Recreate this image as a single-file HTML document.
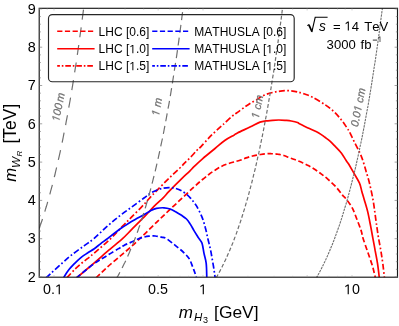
<!DOCTYPE html>
<html><head><meta charset="utf-8"><title>chart</title><style>html,body{margin:0;padding:0;background:#fff;width:399px;height:326px;overflow:hidden}</style></head><body><svg width="399" height="326" viewBox="0 0 399 326" style="position:absolute;left:0;top:0;will-change:transform;font-family:'Liberation Sans',sans-serif">
<defs><clipPath id="cp"><rect x="39.2" y="8.3" width="358.3" height="268.9"/></clipPath></defs>
<rect x="0" y="0" width="399" height="326" fill="#fff"/>
<g clip-path="url(#cp)" fill="none">
<path d="M96.1,277.9 C97.8,276.2 102.7,271.3 106.5,267.8 C110.3,264.3 114.8,260.7 119.0,257.1 C123.2,253.6 128.0,249.5 131.5,246.4 C135.0,243.3 137.7,240.6 139.8,238.6 C141.9,236.6 141.2,237.3 144.0,234.6 C146.8,231.9 152.3,226.3 156.5,222.3 C160.7,218.3 164.8,214.4 169.0,210.4 C173.2,206.4 177.7,202.3 181.8,198.4 C186.0,194.5 190.5,190.2 193.9,187.1 C197.3,183.9 200.0,181.6 202.5,179.5 C205.0,177.4 206.7,176.1 208.8,174.5 C210.8,172.9 212.9,171.5 215.0,170.2 C217.1,168.8 219.2,167.5 221.2,166.5 C223.3,165.5 225.4,164.7 227.5,163.9 C229.6,163.2 231.7,162.6 233.8,162.0 C235.8,161.4 237.9,161.0 240.0,160.3 C242.1,159.6 244.2,158.6 246.2,157.9 C248.3,157.2 250.4,156.5 252.5,156.0 C254.6,155.5 256.7,155.2 258.8,154.8 C260.8,154.5 262.9,154.1 265.0,153.9 C267.1,153.7 269.2,153.6 271.2,153.7 C273.3,153.7 275.4,153.8 277.5,154.2 C279.6,154.5 281.7,154.9 283.8,155.5 C285.8,156.1 287.9,157.2 290.0,158.0 C292.1,158.8 294.2,159.4 296.2,160.2 C298.3,160.9 300.4,161.7 302.5,162.7 C304.6,163.6 306.7,164.7 308.8,165.8 C310.8,166.9 312.9,168.2 315.0,169.5 C317.1,170.8 319.2,172.3 321.2,173.9 C323.3,175.5 325.1,176.8 327.5,178.9 C329.9,181.0 333.0,183.7 335.5,186.4 C338.0,189.1 340.8,193.0 342.5,195.1 C344.2,197.2 344.3,196.7 346.0,198.9 C347.7,201.1 350.6,204.7 352.5,208.4 C354.4,212.1 356.0,217.2 357.5,220.9 C359.0,224.7 360.3,228.0 361.2,230.9 C362.2,233.8 362.0,234.9 363.1,238.4 C364.2,241.9 366.1,247.4 367.8,252.2 C369.4,256.9 371.5,262.8 372.8,267.1 C374.0,271.5 375.0,276.5 375.5,278.4" stroke="#ff0000" stroke-width="1.7" stroke-dasharray="5.4,2.6" stroke-dashoffset="0"/>
<path d="M76.6,277.9 C79.5,275.4 89.0,267.4 94.0,263.1 C99.0,258.8 103.7,254.6 106.5,252.2 C109.3,249.7 108.3,250.6 111.0,248.3 C113.7,246.0 119.3,241.5 122.8,238.4 C126.2,235.3 128.0,233.2 131.5,229.7 C135.0,226.1 140.2,221.0 144.0,217.2 C147.8,213.3 150.8,209.7 154.0,206.4 C157.2,203.1 160.9,200.1 163.4,197.6 C165.9,195.1 166.0,194.5 169.0,191.4 C172.0,188.3 178.0,182.3 181.5,178.9 C185.0,175.5 187.9,172.9 190.0,170.8 C192.1,168.8 191.9,168.6 194.0,166.6 C196.1,164.6 199.0,161.8 202.5,158.8 C206.0,155.8 211.2,151.6 215.0,148.5 C218.8,145.4 221.9,142.5 225.1,140.3 C228.2,138.1 231.8,136.4 233.9,135.2 C236.0,133.9 234.7,134.3 237.5,132.9 C240.3,131.5 246.8,128.6 250.5,126.8 C254.2,125.0 257.4,123.1 260.0,122.1 C262.6,121.1 264.2,121.2 266.2,120.9 C268.3,120.6 270.4,120.6 272.5,120.4 C274.6,120.2 276.7,120.0 278.8,120.0 C280.8,120.0 282.9,120.1 285.0,120.3 C287.1,120.5 289.2,120.6 291.2,121.0 C293.3,121.4 296.0,122.0 297.5,122.5 C299.0,123.0 298.0,123.1 300.0,124.1 C302.0,125.1 306.3,127.0 309.4,128.5 C312.5,130.0 316.1,131.4 318.8,132.9 C321.4,134.4 323.1,135.9 325.0,137.3 C326.9,138.7 328.3,139.6 330.0,141.1 C331.7,142.6 333.1,144.2 335.0,146.2 C336.9,148.2 339.7,150.9 341.5,153.2 C343.3,155.6 344.8,158.5 346.0,160.3 C347.2,162.2 347.5,162.2 348.8,164.3 C350.0,166.4 352.0,169.8 353.8,172.9 C355.5,176.0 358.0,179.8 359.4,182.9 C360.8,186.0 361.1,188.9 361.9,191.7 C362.7,194.4 363.3,196.2 364.2,199.4 C365.1,202.6 366.4,206.5 367.5,210.9 C368.6,215.3 369.7,221.3 370.6,225.9 C371.5,230.5 372.1,234.2 372.9,238.4 C373.7,242.6 374.5,246.7 375.2,250.9 C376.0,255.1 376.8,258.8 377.5,263.4 C378.2,268.0 379.1,275.9 379.4,278.4" stroke="#ff0000" stroke-width="1.7"/>
<path d="M66.7,277.9 C68.1,276.4 72.8,271.4 75.2,269.0 C77.7,266.6 79.4,265.2 81.5,263.4 C83.6,261.6 85.7,260.1 87.8,258.4 C89.8,256.7 90.0,256.7 93.9,253.4 C97.8,250.1 106.1,243.0 110.9,238.4 C115.7,233.8 119.3,229.4 122.8,225.9 C126.2,222.4 128.0,220.7 131.5,217.2 C135.0,213.6 141.1,207.5 144.0,204.4 C146.9,201.3 146.9,201.0 149.0,198.7 C151.1,196.4 153.2,194.2 156.5,190.8 C159.8,187.4 164.8,182.4 169.0,178.3 C173.2,174.2 179.0,168.9 181.5,166.4 C184.0,163.9 182.6,165.0 184.0,163.6 C185.4,162.2 187.9,160.0 190.0,157.8 C192.1,155.7 194.7,152.6 196.5,150.7 C198.3,148.8 198.7,149.0 201.0,146.6 C203.3,144.2 207.1,139.7 210.5,136.2 C213.9,132.8 219.1,128.1 221.5,125.9 C223.9,123.7 223.2,124.6 225.0,122.9 C226.8,121.2 230.4,117.7 232.5,115.9 C234.6,114.2 235.4,113.9 237.5,112.4 C239.6,110.9 242.8,108.4 245.0,106.8 C247.2,105.2 248.9,104.1 251.0,102.8 C253.1,101.5 256.0,100.1 257.5,99.2 C259.0,98.3 258.5,98.2 260.0,97.4 C261.5,96.6 264.2,95.2 266.2,94.4 C268.3,93.6 270.4,93.0 272.5,92.5 C274.6,92.0 276.7,91.6 278.8,91.3 C280.8,91.0 282.9,90.7 285.0,90.7 C287.1,90.6 289.2,90.7 291.2,90.9 C293.3,91.1 295.4,91.4 297.5,91.9 C299.6,92.4 301.2,92.9 303.8,93.8 C306.2,94.7 309.0,95.3 312.5,97.2 C316.0,99.0 321.5,102.3 325.0,104.7 C328.5,107.0 331.0,109.0 333.8,111.5 C336.5,114.0 339.0,116.9 341.2,119.7 C343.5,122.4 345.5,125.7 347.0,127.9 C348.5,130.1 348.7,130.4 350.0,132.9 C351.3,135.4 353.3,139.8 355.0,143.2 C356.7,146.5 358.6,150.1 360.0,153.2 C361.4,156.2 362.2,158.5 363.2,161.6 C364.2,164.7 365.1,167.7 366.2,171.7 C367.4,175.6 368.9,180.6 370.0,185.4 C371.1,190.2 372.3,195.6 373.1,200.3 C373.9,205.0 374.4,208.9 375.0,213.4 C375.6,217.9 376.3,223.0 376.9,227.2 C377.5,231.3 377.9,234.4 378.6,238.4 C379.3,242.4 380.2,246.7 380.9,250.9 C381.6,255.1 382.1,258.8 382.8,263.4 C383.4,268.0 384.2,275.9 384.5,278.4" stroke="#ff0000" stroke-width="1.7" stroke-dasharray="6.0,2.35,1.7,2.35" stroke-dashoffset="0"/>
<path d="M76.3,277.9 C79.2,275.5 88.9,267.5 93.9,263.8 C98.9,260.1 102.3,258.5 106.5,255.9 C110.7,253.3 116.1,250.2 119.0,248.4 C121.9,246.7 122.1,246.4 124.0,245.4 C125.9,244.4 128.2,243.5 130.2,242.6 C132.3,241.7 134.4,240.6 136.5,239.7 C138.6,238.8 140.7,238.0 142.8,237.4 C144.8,236.8 146.9,236.4 149.0,236.2 C151.1,236.0 153.2,235.8 155.2,236.0 C157.3,236.2 159.6,236.6 161.5,237.1 C163.4,237.6 164.2,237.3 166.5,238.7 C168.8,240.1 172.3,243.0 175.2,245.3 C178.2,247.7 181.7,250.5 184.0,252.8 C186.3,255.1 187.8,256.5 189.3,258.9 C190.8,261.3 191.9,265.1 192.8,267.1 C193.6,269.1 193.5,269.0 194.2,270.9 C194.9,272.8 196.3,277.1 196.7,278.4" stroke="#0000ff" stroke-width="1.7" stroke-dasharray="5.4,2.6" stroke-dashoffset="0"/>
<path d="M63.5,277.9 C64.4,276.5 67.0,272.2 69.0,269.6 C71.0,267.1 73.2,264.9 75.2,262.8 C77.3,260.7 79.4,258.8 81.5,257.1 C83.6,255.5 85.7,254.2 87.8,252.8 C89.8,251.4 91.8,250.5 93.9,249.0 C96.0,247.5 98.2,245.6 100.5,243.8 C102.8,242.0 104.7,240.8 107.8,238.4 C110.8,236.0 116.3,231.7 119.0,229.7 C121.7,227.7 121.9,227.8 124.0,226.4 C126.1,225.0 128.2,223.5 131.5,221.5 C134.8,219.5 140.9,216.4 144.0,214.7 C147.1,212.9 148.2,211.9 150.2,210.9 C152.3,209.9 154.2,208.9 156.5,208.4 C158.8,207.9 161.7,207.7 164.0,207.8 C166.3,207.9 168.4,208.4 170.2,209.0 C172.1,209.6 173.4,210.4 175.2,211.5 C177.1,212.6 179.6,214.1 181.5,215.3 C183.4,216.6 185.0,217.6 186.5,219.0 C188.0,220.4 189.0,222.1 190.2,224.0 C191.5,225.9 192.6,228.2 194.0,230.6 C195.4,233.0 197.6,236.3 198.9,238.4 C200.2,240.5 201.2,240.9 202.1,243.4 C202.9,245.9 203.3,250.1 204.0,253.4 C204.7,256.7 205.8,259.2 206.2,263.4 C206.7,267.6 206.7,275.9 206.8,278.4" stroke="#0000ff" stroke-width="1.7"/>
<path d="M46.0,277.9 C49.8,274.4 62.7,262.5 69.0,257.1 C75.3,251.8 79.8,249.0 84.0,245.9 C88.2,242.8 90.2,241.8 93.9,238.6 C97.7,235.4 102.3,230.6 106.5,226.9 C110.7,223.2 114.8,219.7 119.0,216.4 C123.2,213.1 127.3,210.2 131.5,207.2 C135.7,204.1 140.9,200.3 144.0,198.0 C147.1,195.7 148.2,194.7 150.2,193.4 C152.3,192.1 154.4,191.0 156.5,190.2 C158.6,189.3 160.7,188.7 162.8,188.3 C164.8,187.9 166.9,187.7 169.0,187.7 C171.1,187.7 173.2,187.8 175.2,188.3 C177.3,188.8 179.4,189.6 181.5,190.8 C183.6,192.0 186.2,194.0 187.8,195.3 C189.3,196.6 190.0,197.5 191.0,198.7 C192.0,199.9 193.1,201.2 194.0,202.4 C194.9,203.6 195.2,203.7 196.5,205.9 C197.8,208.2 200.0,212.4 201.5,215.9 C203.0,219.4 204.2,223.4 205.2,227.2 C206.3,230.9 206.9,234.9 207.8,238.4 C208.6,241.9 209.5,245.1 210.2,248.4 C211.0,251.7 211.5,254.9 212.1,258.4 C212.7,261.9 213.5,266.3 214.0,269.6 C214.5,273.0 215.0,276.9 215.2,278.4" stroke="#0000ff" stroke-width="1.7" stroke-dasharray="6.0,2.35,1.7,2.35" stroke-dashoffset="0"/>
<path d="M36.0,237.5 C36.1,237.1 36.6,235.9 36.9,235.1 C37.2,234.3 37.4,233.6 37.7,232.8 C38.0,232.0 38.3,231.2 38.6,230.3 C38.9,229.5 39.2,228.7 39.5,227.9 C39.8,227.0 40.0,226.2 40.3,225.4 C40.6,224.5 40.9,223.7 41.2,222.8 C41.5,221.9 41.8,221.1 42.1,220.2 C42.4,219.3 42.6,218.4 42.9,217.5 C43.2,216.6 43.5,215.7 43.8,214.8 C44.1,213.9 44.4,212.9 44.7,212.0 C45.0,211.1 45.2,210.1 45.5,209.2 C45.8,208.2 46.1,207.2 46.4,206.3 C46.7,205.3 47.0,204.3 47.3,203.3 C47.6,202.3 47.8,201.3 48.1,200.3 C48.4,199.3 48.7,198.3 49.0,197.2 C49.3,196.2 49.6,195.2 49.9,194.1 C50.2,193.1 50.4,192.0 50.7,190.9 C51.0,189.8 51.3,188.8 51.6,187.7 C51.9,186.6 52.2,185.5 52.5,184.3 C52.8,183.2 53.0,182.1 53.3,181.0 C53.6,179.8 53.9,178.7 54.2,177.5 C54.5,176.3 54.8,175.2 55.1,174.0 C55.4,172.8 55.6,171.6 55.9,170.4 C56.2,169.2 56.5,167.9 56.8,166.7 C57.1,165.5 57.4,164.2 57.7,163.0 C58.0,161.7 58.2,160.4 58.5,159.2 C58.8,157.9 59.1,156.6 59.4,155.3 C59.7,153.9 60.0,152.6 60.3,151.3 C60.6,150.0 60.8,148.6 61.1,147.2 C61.4,145.9 61.7,144.5 62.0,143.1 C62.3,141.7 62.6,140.3 62.9,138.9 C63.2,137.5 63.4,136.0 63.7,134.6 C64.0,133.1 64.3,131.7 64.6,130.2 C64.9,128.7 65.2,127.2 65.5,125.7 C65.8,124.2 66.0,122.7 66.3,121.2 C66.6,119.6 66.9,118.1 67.2,116.5 C67.5,115.0 67.8,113.4 68.1,111.8 C68.4,110.2 68.6,108.6 68.9,106.9 C69.2,105.3 69.5,103.7 69.8,102.0 C70.1,100.3 70.4,98.7 70.7,97.0 C71.0,95.3 71.2,93.6 71.5,91.8 C71.8,90.1 72.1,88.4 72.4,86.6 C72.7,84.8 73.0,83.0 73.3,81.2 C73.6,79.4 73.8,77.6 74.1,75.8 C74.4,74.0 74.7,72.1 75.0,70.2 C75.3,68.4 75.6,66.5 75.9,64.6 C76.2,62.6 76.4,60.7 76.7,58.8 C77.0,56.8 77.3,54.9 77.6,52.9 C77.9,50.9 78.2,48.9 78.5,46.8 C78.8,44.8 79.0,42.8 79.3,40.7 C79.6,38.6 79.9,36.6 80.2,34.4 C80.5,32.3 80.8,30.2 81.1,28.1 C81.4,25.9 81.6,23.7 81.9,21.5 C82.2,19.3 82.5,17.1 82.8,14.9 C83.1,12.7 83.4,10.4 83.7,8.1 C84.0,5.8 84.2,3.5 84.5,1.2 C84.8,-1.1 85.1,-3.5 85.4,-5.9 C85.7,-8.2 86.0,-10.6 86.3,-13.1 C86.6,-15.5 86.8,-17.9 87.1,-20.4 C87.4,-22.9 87.9,-26.6 88.0,-27.9" stroke="#6f6f6f" stroke-width="1.2" stroke-dasharray="10,7.8" stroke-dashoffset="8.17"/>
<path d="M114.0,282.5 C114.2,282.1 114.8,281.1 115.2,280.5 C115.6,279.8 116.0,279.1 116.4,278.4 C116.8,277.7 117.2,277.0 117.7,276.3 C118.1,275.6 118.5,274.8 118.9,274.1 C119.3,273.4 119.7,272.6 120.1,271.9 C120.5,271.1 120.9,270.3 121.3,269.5 C121.7,268.8 122.1,268.0 122.5,267.2 C122.9,266.4 123.3,265.6 123.7,264.7 C124.1,263.9 124.5,263.1 125.0,262.2 C125.4,261.4 125.8,260.5 126.2,259.7 C126.6,258.8 127.0,257.9 127.4,257.0 C127.8,256.1 128.2,255.2 128.6,254.3 C129.0,253.4 129.4,252.4 129.8,251.5 C130.2,250.5 130.6,249.6 131.0,248.6 C131.4,247.6 131.8,246.6 132.2,245.6 C132.7,244.6 133.1,243.6 133.5,242.6 C133.9,241.6 134.3,240.5 134.7,239.4 C135.1,238.4 135.5,237.3 135.9,236.2 C136.3,235.1 136.7,234.0 137.1,232.9 C137.5,231.8 137.9,230.7 138.3,229.5 C138.7,228.4 139.1,227.2 139.6,226.0 C140.0,224.8 140.4,223.6 140.8,222.4 C141.2,221.2 141.6,220.0 142.0,218.7 C142.4,217.5 142.8,216.2 143.2,214.9 C143.6,213.6 144.0,212.3 144.4,211.0 C144.8,209.7 145.2,208.3 145.6,207.0 C146.0,205.6 146.4,204.2 146.8,202.8 C147.3,201.4 147.7,200.0 148.1,198.6 C148.5,197.1 148.9,195.7 149.3,194.2 C149.7,192.7 150.1,191.2 150.5,189.7 C150.9,188.2 151.3,186.6 151.7,185.1 C152.1,183.5 152.5,181.9 152.9,180.3 C153.3,178.7 153.7,177.1 154.2,175.4 C154.6,173.8 155.0,172.1 155.4,170.4 C155.8,168.7 156.2,167.0 156.6,165.2 C157.0,163.5 157.4,161.7 157.8,159.9 C158.2,158.1 158.6,156.3 159.0,154.5 C159.4,152.6 159.8,150.7 160.2,148.8 C160.6,146.9 161.0,145.0 161.4,143.1 C161.9,141.1 162.3,139.1 162.7,137.1 C163.1,135.1 163.5,133.1 163.9,131.0 C164.3,128.9 164.7,126.9 165.1,124.7 C165.5,122.6 165.9,120.5 166.3,118.3 C166.7,116.1 167.1,113.9 167.5,111.6 C167.9,109.4 168.3,107.1 168.8,104.8 C169.2,102.5 169.6,100.2 170.0,97.8 C170.4,95.4 170.8,93.0 171.2,90.6 C171.6,88.1 172.0,85.7 172.4,83.1 C172.8,80.6 173.2,78.1 173.6,75.5 C174.0,72.9 174.4,70.3 174.8,67.7 C175.2,65.0 175.6,62.3 176.1,59.6 C176.5,56.9 176.9,54.1 177.3,51.3 C177.7,48.5 178.1,45.7 178.5,42.8 C178.9,39.9 179.3,37.0 179.7,34.0 C180.1,31.0 180.5,28.0 180.9,25.0 C181.3,21.9 181.7,18.8 182.1,15.7 C182.5,12.6 182.9,9.4 183.3,6.2 C183.8,3.0 184.2,-0.3 184.6,-3.6 C185.0,-6.9 185.4,-10.3 185.8,-13.7 C186.2,-17.1 186.8,-22.3 187.0,-24.1" stroke="#6f6f6f" stroke-width="1.2" stroke-dasharray="8.0,4.8" stroke-dashoffset="8.96"/>
<path d="M212.0,284.7 C212.2,284.4 212.8,283.4 213.2,282.8 C213.6,282.1 214.1,281.4 214.5,280.7 C214.9,280.1 215.3,279.4 215.7,278.7 C216.1,278.0 216.5,277.2 216.9,276.5 C217.3,275.8 217.8,275.1 218.2,274.3 C218.6,273.6 219.0,272.8 219.4,272.0 C219.8,271.3 220.2,270.5 220.6,269.7 C221.0,268.9 221.5,268.1 221.9,267.3 C222.3,266.5 222.7,265.7 223.1,264.8 C223.5,264.0 223.9,263.2 224.3,262.3 C224.7,261.4 225.2,260.6 225.6,259.7 C226.0,258.8 226.4,257.9 226.8,257.0 C227.2,256.1 227.6,255.2 228.0,254.2 C228.4,253.3 228.9,252.4 229.3,251.4 C229.7,250.4 230.1,249.5 230.5,248.5 C230.9,247.5 231.3,246.5 231.7,245.5 C232.1,244.5 232.6,243.4 233.0,242.4 C233.4,241.3 233.8,240.3 234.2,239.2 C234.6,238.1 235.0,237.0 235.4,235.9 C235.8,234.8 236.3,233.7 236.7,232.6 C237.1,231.4 237.5,230.3 237.9,229.1 C238.3,227.9 238.7,226.7 239.1,225.5 C239.5,224.3 240.0,223.1 240.4,221.9 C240.8,220.6 241.2,219.4 241.6,218.1 C242.0,216.8 242.4,215.5 242.8,214.2 C243.2,212.9 243.7,211.6 244.1,210.2 C244.5,208.9 244.9,207.5 245.3,206.1 C245.7,204.7 246.1,203.3 246.5,201.9 C246.9,200.5 247.4,199.0 247.8,197.6 C248.2,196.1 248.6,194.6 249.0,193.1 C249.4,191.6 249.8,190.1 250.2,188.5 C250.6,187.0 251.1,185.4 251.5,183.8 C251.9,182.2 252.3,180.6 252.7,178.9 C253.1,177.3 253.5,175.6 253.9,173.9 C254.3,172.3 254.8,170.5 255.2,168.8 C255.6,167.1 256.0,165.3 256.4,163.5 C256.8,161.7 257.2,159.9 257.6,158.1 C258.0,156.2 258.5,154.4 258.9,152.5 C259.3,150.6 259.7,148.7 260.1,146.7 C260.5,144.8 260.9,142.8 261.3,140.8 C261.7,138.8 262.2,136.8 262.6,134.7 C263.0,132.7 263.4,130.6 263.8,128.5 C264.2,126.4 264.6,124.2 265.0,122.0 C265.4,119.8 265.9,117.6 266.3,115.4 C266.7,113.2 267.1,110.9 267.5,108.6 C267.9,106.3 268.3,103.9 268.7,101.6 C269.1,99.2 269.6,96.8 270.0,94.4 C270.4,91.9 270.8,89.5 271.2,87.0 C271.6,84.4 272.0,81.9 272.4,79.3 C272.8,76.7 273.3,74.1 273.7,71.5 C274.1,68.8 274.5,66.1 274.9,63.4 C275.3,60.7 275.7,57.9 276.1,55.1 C276.5,52.3 277.0,49.5 277.4,46.6 C277.8,43.7 278.2,40.8 278.6,37.8 C279.0,34.8 279.4,31.8 279.8,28.7 C280.2,25.7 280.7,22.6 281.1,19.5 C281.5,16.3 281.9,13.1 282.3,9.9 C282.7,6.7 283.1,3.4 283.5,0.1 C283.9,-3.3 284.4,-6.6 284.8,-10.1 C285.2,-13.5 285.8,-18.7 286.0,-20.5" stroke="#6f6f6f" stroke-width="1.2" stroke-dasharray="3.8,2.15" stroke-dashoffset="3.87"/>
<path d="M313.0,283.6 C313.2,283.2 313.8,282.3 314.2,281.6 C314.6,280.9 315.0,280.2 315.4,279.5 C315.8,278.8 316.2,278.1 316.6,277.4 C317.1,276.7 317.5,276.0 317.9,275.3 C318.3,274.5 318.7,273.8 319.1,273.1 C319.5,272.3 319.9,271.5 320.3,270.8 C320.7,270.0 321.1,269.2 321.5,268.4 C321.9,267.6 322.3,266.8 322.7,266.0 C323.1,265.2 323.5,264.4 323.9,263.5 C324.4,262.7 324.8,261.8 325.2,261.0 C325.6,260.1 326.0,259.2 326.4,258.3 C326.8,257.4 327.2,256.5 327.6,255.6 C328.0,254.7 328.4,253.8 328.8,252.8 C329.2,251.9 329.6,251.0 330.0,250.0 C330.4,249.0 330.8,248.0 331.2,247.0 C331.7,246.1 332.1,245.0 332.5,244.0 C332.9,243.0 333.3,242.0 333.7,240.9 C334.1,239.9 334.5,238.8 334.9,237.7 C335.3,236.6 335.7,235.5 336.1,234.4 C336.5,233.3 336.9,232.2 337.3,231.0 C337.7,229.9 338.1,228.7 338.6,227.6 C339.0,226.4 339.4,225.2 339.8,224.0 C340.2,222.8 340.6,221.6 341.0,220.3 C341.4,219.1 341.8,217.8 342.2,216.5 C342.6,215.3 343.0,214.0 343.4,212.6 C343.8,211.3 344.2,210.0 344.6,208.6 C345.0,207.3 345.4,205.9 345.9,204.5 C346.3,203.1 346.7,201.7 347.1,200.3 C347.5,198.9 347.9,197.4 348.3,195.9 C348.7,194.5 349.1,193.0 349.5,191.5 C349.9,190.0 350.3,188.4 350.7,186.9 C351.1,185.3 351.5,183.7 351.9,182.1 C352.3,180.5 352.7,178.9 353.1,177.3 C353.6,175.6 354.0,174.0 354.4,172.3 C354.8,170.6 355.2,168.9 355.6,167.1 C356.0,165.4 356.4,163.6 356.8,161.8 C357.2,160.0 357.6,158.2 358.0,156.4 C358.4,154.5 358.8,152.7 359.2,150.8 C359.6,148.9 360.0,147.0 360.4,145.0 C360.9,143.1 361.3,141.1 361.7,139.1 C362.1,137.1 362.5,135.1 362.9,133.0 C363.3,131.0 363.7,128.9 364.1,126.8 C364.5,124.7 364.9,122.5 365.3,120.3 C365.7,118.2 366.1,116.0 366.5,113.7 C366.9,111.5 367.3,109.2 367.8,106.9 C368.2,104.6 368.6,102.3 369.0,99.9 C369.4,97.5 369.8,95.1 370.2,92.7 C370.6,90.3 371.0,87.8 371.4,85.3 C371.8,82.8 372.2,80.3 372.6,77.7 C373.0,75.1 373.4,72.5 373.8,69.9 C374.2,67.2 374.6,64.5 375.1,61.8 C375.5,59.1 375.9,56.3 376.3,53.5 C376.7,50.7 377.1,47.9 377.5,45.0 C377.9,42.1 378.3,39.2 378.7,36.3 C379.1,33.3 379.5,30.3 379.9,27.2 C380.3,24.2 380.7,21.1 381.1,18.0 C381.5,14.9 381.9,11.7 382.4,8.5 C382.8,5.2 383.2,2.0 383.6,-1.3 C384.0,-4.6 384.4,-8.0 384.8,-11.4 C385.2,-14.8 385.8,-20.0 386.0,-21.8" stroke="#6f6f6f" stroke-width="1.1" stroke-dasharray="2.4,0.9" stroke-dashoffset="0.00"/>
</g>
<rect x="39.2" y="8.3" width="358.3" height="268.9" fill="none" stroke="#181818" stroke-width="1.15"/>
<path d="M39.2,277.00h3.0 M397.6,277.00h-3.0 M39.2,269.34h1.7 M397.6,269.34h-1.7 M39.2,261.68h1.7 M397.6,261.68h-1.7 M39.2,254.02h1.7 M397.6,254.02h-1.7 M39.2,246.36h1.7 M397.6,246.36h-1.7 M39.2,238.70h3.0 M397.6,238.70h-3.0 M39.2,231.04h1.7 M397.6,231.04h-1.7 M39.2,223.38h1.7 M397.6,223.38h-1.7 M39.2,215.72h1.7 M397.6,215.72h-1.7 M39.2,208.06h1.7 M397.6,208.06h-1.7 M39.2,200.40h3.0 M397.6,200.40h-3.0 M39.2,192.74h1.7 M397.6,192.74h-1.7 M39.2,185.08h1.7 M397.6,185.08h-1.7 M39.2,177.42h1.7 M397.6,177.42h-1.7 M39.2,169.76h1.7 M397.6,169.76h-1.7 M39.2,162.10h3.0 M397.6,162.10h-3.0 M39.2,154.44h1.7 M397.6,154.44h-1.7 M39.2,146.78h1.7 M397.6,146.78h-1.7 M39.2,139.12h1.7 M397.6,139.12h-1.7 M39.2,131.46h1.7 M397.6,131.46h-1.7 M39.2,123.80h3.0 M397.6,123.80h-3.0 M39.2,116.14h1.7 M397.6,116.14h-1.7 M39.2,108.48h1.7 M397.6,108.48h-1.7 M39.2,100.82h1.7 M397.6,100.82h-1.7 M39.2,93.16h1.7 M397.6,93.16h-1.7 M39.2,85.50h3.0 M397.6,85.50h-3.0 M39.2,77.84h1.7 M397.6,77.84h-1.7 M39.2,70.18h1.7 M397.6,70.18h-1.7 M39.2,62.52h1.7 M397.6,62.52h-1.7 M39.2,54.86h1.7 M397.6,54.86h-1.7 M39.2,47.20h3.0 M397.6,47.20h-3.0 M39.2,39.54h1.7 M397.6,39.54h-1.7 M39.2,31.88h1.7 M397.6,31.88h-1.7 M39.2,24.22h1.7 M397.6,24.22h-1.7 M39.2,16.56h1.7 M397.6,16.56h-1.7 M39.2,8.90h3.0 M397.6,8.90h-3.0" stroke="#666" stroke-width="0.6" fill="none"/>
<path d="M39.56,277.2v-1.4 M39.56,8.3v1.4 M47.18,277.2v-1.4 M47.18,8.3v1.4 M54.00,277.2v-2.2 M54.00,8.3v2.2 M98.85,277.2v-1.4 M98.85,8.3v1.4 M125.09,277.2v-1.4 M125.09,8.3v1.4 M143.71,277.2v-1.4 M143.71,8.3v1.4 M158.15,277.2v-2.2 M158.15,8.3v2.2 M169.94,277.2v-1.4 M169.94,8.3v1.4 M179.92,277.2v-1.4 M179.92,8.3v1.4 M188.56,277.2v-1.4 M188.56,8.3v1.4 M196.18,277.2v-1.4 M196.18,8.3v1.4 M203.00,277.2v-2.2 M203.00,8.3v2.2 M247.85,277.2v-1.4 M247.85,8.3v1.4 M274.09,277.2v-1.4 M274.09,8.3v1.4 M292.71,277.2v-1.4 M292.71,8.3v1.4 M307.15,277.2v-2.2 M307.15,8.3v2.2 M318.94,277.2v-1.4 M318.94,8.3v1.4 M328.92,277.2v-1.4 M328.92,8.3v1.4 M337.56,277.2v-1.4 M337.56,8.3v1.4 M345.18,277.2v-1.4 M345.18,8.3v1.4 M352.00,277.2v-2.2 M352.00,8.3v2.2 M396.85,277.2v-1.4 M396.85,8.3v1.4" stroke="#999" stroke-width="0.45" fill="none"/>
<text x="35.8" y="281.7" font-size="14.4" text-anchor="end" fill="#000">2</text>
<text x="35.8" y="243.4" font-size="14.4" text-anchor="end" fill="#000">3</text>
<text x="35.8" y="205.1" font-size="14.4" text-anchor="end" fill="#000">4</text>
<text x="35.8" y="166.8" font-size="14.4" text-anchor="end" fill="#000">5</text>
<text x="35.8" y="128.5" font-size="14.4" text-anchor="end" fill="#000">6</text>
<text x="35.8" y="90.2" font-size="14.4" text-anchor="end" fill="#000">7</text>
<text x="35.8" y="51.9" font-size="14.4" text-anchor="end" fill="#000">8</text>
<text x="35.8" y="13.6" font-size="14.4" text-anchor="end" fill="#000">9</text>
<text x="43.06" y="294.30" font-size="14.3" fill="#000" style="font-kerning:none" >0.</text><path transform="translate(54.99,294.30) scale(0.00698,-0.00698)" d="M530 0V1237L197 1010V1180L530 1409H696V0Z" fill="#000" />
<text x="147.96" y="294.30" font-size="14.3" fill="#000" style="font-kerning:none" >0.5</text>
<path transform="translate(199.02,294.30) scale(0.00698,-0.00698)" d="M530 0V1237L197 1010V1180L530 1409H696V0Z" fill="#000" />
<path transform="translate(343.95,294.30) scale(0.00698,-0.00698)" d="M530 0V1237L197 1010V1180L530 1409H696V0Z" fill="#000" /><text x="351.90" y="294.30" font-size="14.3" fill="#000" style="font-kerning:none" >0</text>
<text y="318" font-size="17.4" fill="#000"><tspan x="178.8" font-size="17" font-style="italic">m</tspan><tspan x="194" y="321.2" font-size="11.5" font-style="italic">H</tspan><tspan x="203" y="323.2" font-size="9">3</tspan><tspan x="214.1" y="318">[GeV]</tspan></text>
<g transform="translate(16,0) rotate(-90)"><text y="0" font-size="17.5" fill="#000"><tspan x="-181.8" y="-0.5" font-size="16.6" font-style="italic">m</tspan><tspan x="-168" y="4.3" font-size="11.8" font-style="italic">W</tspan><tspan x="-156.4" y="6" font-size="8" font-style="italic">R</tspan><tspan x="-143.5" y="0">[TeV]</tspan></text></g>
<rect x="48.5" y="14.6" width="245.7" height="67.2" rx="3.8" ry="3.8" fill="none" stroke="#262626" stroke-width="1.15"/>
<path d="M57.2,31.3H94.6" stroke="#ff0000" stroke-width="1.6" stroke-dasharray="5.2,2.5"/>
<text x="98.60" y="35.70" font-size="12" fill="#000" style="font-kerning:none" >LHC</text><text x="125.94" y="35.70" font-size="12" fill="#000" style="font-kerning:none" >[0.6]</text>
<path d="M152.2,31.3H189.6" stroke="#0000ff" stroke-width="1.6" stroke-dasharray="5.2,2.5"/>
<text x="194.30" y="35.70" font-size="12" fill="#000" style="font-kerning:none" >MATHUSLA</text><text x="262.98" y="35.70" font-size="12" fill="#000" style="font-kerning:none" >[0.6]</text>
<path d="M57.2,48.8H94.6" stroke="#ff0000" stroke-width="1.6"/>
<text x="98.60" y="53.15" font-size="12" fill="#000" style="font-kerning:none" >LHC</text><text x="125.94" y="53.15" font-size="12" fill="#000" style="font-kerning:none" >[</text><path transform="translate(129.27,53.15) scale(0.00586,-0.00586)" d="M530 0V1237L197 1010V1180L530 1409H696V0Z" fill="#000" /><text x="135.95" y="53.15" font-size="12" fill="#000" style="font-kerning:none" >.0]</text>
<path d="M152.2,48.8H189.6" stroke="#0000ff" stroke-width="1.6"/>
<text x="194.30" y="53.15" font-size="12" fill="#000" style="font-kerning:none" >MATHUSLA</text><text x="262.98" y="53.15" font-size="12" fill="#000" style="font-kerning:none" >[</text><path transform="translate(266.31,53.15) scale(0.00586,-0.00586)" d="M530 0V1237L197 1010V1180L530 1409H696V0Z" fill="#000" /><text x="272.99" y="53.15" font-size="12" fill="#000" style="font-kerning:none" >.0]</text>
<path d="M57.2,65.9H94.6" stroke="#ff0000" stroke-width="1.6" stroke-dasharray="5.6,1.9,1.6,1.9" stroke-dashoffset="2.9"/>
<text x="98.60" y="70.30" font-size="12" fill="#000" style="font-kerning:none" >LHC</text><text x="125.94" y="70.30" font-size="12" fill="#000" style="font-kerning:none" >[</text><path transform="translate(129.27,70.30) scale(0.00586,-0.00586)" d="M530 0V1237L197 1010V1180L530 1409H696V0Z" fill="#000" /><text x="135.95" y="70.30" font-size="12" fill="#000" style="font-kerning:none" >.5]</text>
<path d="M152.2,65.9H189.6" stroke="#0000ff" stroke-width="1.6" stroke-dasharray="5.6,1.9,1.6,1.9" stroke-dashoffset="2.9"/>
<text x="194.30" y="70.30" font-size="12" fill="#000" style="font-kerning:none" >MATHUSLA</text><text x="262.98" y="70.30" font-size="12" fill="#000" style="font-kerning:none" >[</text><path transform="translate(266.31,70.30) scale(0.00586,-0.00586)" d="M530 0V1237L197 1010V1180L530 1409H696V0Z" fill="#000" /><text x="272.99" y="70.30" font-size="12" fill="#000" style="font-kerning:none" >.5]</text>
<g transform="translate(58.1,107.0) rotate(-79.0)"><path transform="translate(-14.54,3.90) scale(0.00537,-0.00537)" d="M409.5 0L650 1223L289 1000L324 1180L701 1409H867L590.5 0Z" fill="#727272" stroke="#727272" stroke-width="47"/><text x="-8.42" y="3.90" font-size="11" font-style="italic" fill="#727272" style="font-kerning:none" stroke="#727272" stroke-width="0.25">00</text><text x="5.37" y="3.90" font-size="11" font-style="italic" fill="#727272" style="font-kerning:none" stroke="#727272" stroke-width="0.25">m</text></g>
<g transform="translate(156.7,106.8) rotate(-80.0)"><path transform="translate(-9.17,3.90) scale(0.00537,-0.00537)" d="M409.5 0L650 1223L289 1000L324 1180L701 1409H867L590.5 0Z" fill="#727272" stroke="#727272" stroke-width="47"/><text x="0.01" y="3.90" font-size="11" font-style="italic" fill="#727272" style="font-kerning:none" stroke="#727272" stroke-width="0.25">m</text></g>
<g transform="translate(257.1,106.6) rotate(-79.0)"><path transform="translate(-11.92,3.90) scale(0.00537,-0.00537)" d="M409.5 0L650 1223L289 1000L324 1180L701 1409H867L590.5 0Z" fill="#727272" stroke="#727272" stroke-width="47"/><text x="-2.74" y="3.90" font-size="11" font-style="italic" fill="#727272" style="font-kerning:none" stroke="#727272" stroke-width="0.25">cm</text></g>
<g transform="translate(357.9,107.3) rotate(-79.0)"><text x="-19.56" y="3.90" font-size="11" font-style="italic" fill="#727272" style="font-kerning:none" stroke="#727272" stroke-width="0.25">0.0</text><path transform="translate(-4.27,3.90) scale(0.00537,-0.00537)" d="M409.5 0L650 1223L289 1000L324 1180L701 1409H867L590.5 0Z" fill="#727272" stroke="#727272" stroke-width="47"/><text x="4.90" y="3.90" font-size="11" font-style="italic" fill="#727272" style="font-kerning:none" stroke="#727272" stroke-width="0.25">cm</text></g>
<text y="30.6" font-size="13.1" fill="#000"><tspan x="319.1" font-size="13.8" font-style="italic">s</tspan><tspan x="333">=</tspan><tspan x="364.2" style="font-kerning:none">TeV</tspan></text>
<g stroke="#000" fill="none" stroke-linejoin="miter"><path d="M307.1,25.6 L309,24.5" stroke-width="0.9"/><path d="M308.8,24.6 L311.9,31.6" stroke-width="1.7"/><path d="M311.8,32.2 L315.2,17.3 H327.6" stroke-width="1.1"/></g>
<text y="48.8" font-size="13.1" fill="#000"><tspan x="326.6">3000</tspan><tspan x="360.6">fb</tspan></text>
<path d="M372.8,40.1H377" stroke="#000" stroke-width="0.8"/>
<path transform="translate(344.40,30.60) scale(0.00640,-0.00640)" d="M530 0V1237L197 1010V1180L530 1409H696V0Z" fill="#000" /><text x="351.69" y="30.60" font-size="13.1" fill="#000" style="font-kerning:none" >4</text>
<path transform="translate(377.60,42.00) scale(0.00391,-0.00391)" d="M530 0V1237L197 1010V1180L530 1409H696V0Z" fill="#000" />
</svg></body></html>
